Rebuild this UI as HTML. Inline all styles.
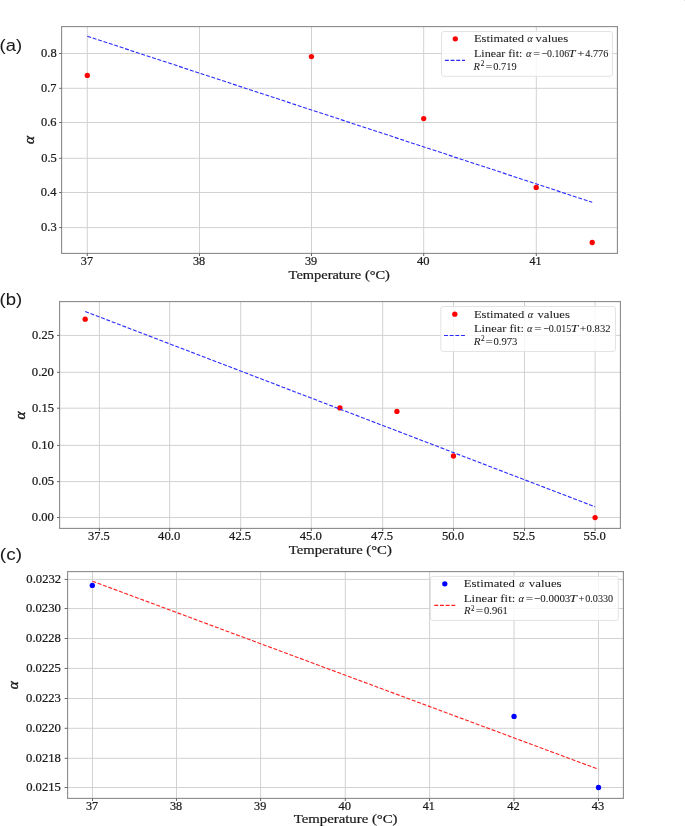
<!DOCTYPE html>
<html><head><meta charset="utf-8"><title>alpha vs temperature</title><style>
html,body{margin:0;padding:0;background:#fff;width:685px;height:826px;overflow:hidden;}
svg{display:block;will-change:transform;} text{stroke:#1a1a1a;stroke-width:0.22px;} text.lg{stroke-width:0.06px;} text.pl{stroke-width:0.05px;} text.al{stroke-width:0.4px;}
</style></head><body>
<svg width="685" height="826" viewBox="0 0 685 826">
<rect width="685" height="826" fill="#fff"/>
<rect x="684" y="0" width="1" height="1" fill="#e4e4e4"/>
<line x1="87.30" y1="26.6" x2="87.30" y2="253.4" stroke="#d2d2d2" stroke-width="1.0"/>
<line x1="199.50" y1="26.6" x2="199.50" y2="253.4" stroke="#d2d2d2" stroke-width="1.0"/>
<line x1="311.50" y1="26.6" x2="311.50" y2="253.4" stroke="#d2d2d2" stroke-width="1.0"/>
<line x1="423.70" y1="26.6" x2="423.70" y2="253.4" stroke="#d2d2d2" stroke-width="1.0"/>
<line x1="536.30" y1="26.6" x2="536.30" y2="253.4" stroke="#d2d2d2" stroke-width="1.0"/>
<line x1="61.6" y1="53.50" x2="617.4" y2="53.50" stroke="#d2d2d2" stroke-width="1.0"/>
<line x1="61.6" y1="88.30" x2="617.4" y2="88.30" stroke="#d2d2d2" stroke-width="1.0"/>
<line x1="61.6" y1="122.50" x2="617.4" y2="122.50" stroke="#d2d2d2" stroke-width="1.0"/>
<line x1="61.6" y1="158.30" x2="617.4" y2="158.30" stroke="#d2d2d2" stroke-width="1.0"/>
<line x1="61.6" y1="192.50" x2="617.4" y2="192.50" stroke="#d2d2d2" stroke-width="1.0"/>
<line x1="61.6" y1="227.60" x2="617.4" y2="227.60" stroke="#d2d2d2" stroke-width="1.0"/>
<circle cx="87.3" cy="75.4" r="2.65" fill="#ff0000"/>
<circle cx="311.45" cy="56.6" r="2.65" fill="#ff0000"/>
<circle cx="423.7" cy="118.6" r="2.65" fill="#ff0000"/>
<circle cx="536.2" cy="187.4" r="2.65" fill="#ff0000"/>
<circle cx="592.2" cy="242.5" r="2.65" fill="#ff0000"/>
<line x1="87.3" y1="36.2" x2="592.2" y2="202.3" stroke="#2a2aff" stroke-width="1.1" stroke-dasharray="3.95 1.73"/>
<rect x="61.6" y="26.6" width="555.80" height="226.80" fill="none" stroke="#8a8a8a" stroke-width="1.1"/>
<line x1="87.30" y1="253.4" x2="87.30" y2="256.0" stroke="#666" stroke-width="1.0"/>
<text x="80.80" y="264.60" font-size="11.60" font-family='"Liberation Serif", serif' fill="#1a1a1a" textLength="12.19" lengthAdjust="spacingAndGlyphs">37</text>
<line x1="199.50" y1="253.4" x2="199.50" y2="256.0" stroke="#666" stroke-width="1.0"/>
<text x="193.00" y="264.60" font-size="11.60" font-family='"Liberation Serif", serif' fill="#1a1a1a" textLength="12.19" lengthAdjust="spacingAndGlyphs">38</text>
<line x1="311.50" y1="253.4" x2="311.50" y2="256.0" stroke="#666" stroke-width="1.0"/>
<text x="305.00" y="264.60" font-size="11.60" font-family='"Liberation Serif", serif' fill="#1a1a1a" textLength="12.19" lengthAdjust="spacingAndGlyphs">39</text>
<line x1="423.70" y1="253.4" x2="423.70" y2="256.0" stroke="#666" stroke-width="1.0"/>
<text x="416.95" y="264.60" font-size="11.60" font-family='"Liberation Serif", serif' fill="#1a1a1a" textLength="12.54" lengthAdjust="spacingAndGlyphs">40</text>
<line x1="536.30" y1="253.4" x2="536.30" y2="256.0" stroke="#666" stroke-width="1.0"/>
<text x="529.57" y="264.60" font-size="11.60" font-family='"Liberation Serif", serif' fill="#1a1a1a" textLength="11.97" lengthAdjust="spacingAndGlyphs">41</text>
<line x1="59.2" y1="53.50" x2="61.6" y2="53.50" stroke="#666" stroke-width="1.0"/>
<text x="41.06" y="57.25" font-size="11.60" font-family='"Liberation Serif", serif' fill="#1a1a1a" textLength="15.68" lengthAdjust="spacingAndGlyphs">0.8</text>
<line x1="59.2" y1="88.30" x2="61.6" y2="88.30" stroke="#666" stroke-width="1.0"/>
<text x="41.07" y="92.05" font-size="11.60" font-family='"Liberation Serif", serif' fill="#1a1a1a" textLength="15.40" lengthAdjust="spacingAndGlyphs">0.7</text>
<line x1="59.2" y1="122.50" x2="61.6" y2="122.50" stroke="#666" stroke-width="1.0"/>
<text x="40.97" y="126.25" font-size="11.60" font-family='"Liberation Serif", serif' fill="#1a1a1a" textLength="15.50" lengthAdjust="spacingAndGlyphs">0.6</text>
<line x1="59.2" y1="158.30" x2="61.6" y2="158.30" stroke="#666" stroke-width="1.0"/>
<text x="41.16" y="162.05" font-size="11.60" font-family='"Liberation Serif", serif' fill="#1a1a1a" textLength="15.57" lengthAdjust="spacingAndGlyphs">0.5</text>
<line x1="59.2" y1="192.50" x2="61.6" y2="192.50" stroke="#666" stroke-width="1.0"/>
<text x="40.86" y="196.25" font-size="11.60" font-family='"Liberation Serif", serif' fill="#1a1a1a" textLength="15.61" lengthAdjust="spacingAndGlyphs">0.4</text>
<line x1="59.2" y1="227.60" x2="61.6" y2="227.60" stroke="#666" stroke-width="1.0"/>
<text x="41.06" y="231.35" font-size="11.60" font-family='"Liberation Serif", serif' fill="#1a1a1a" textLength="15.68" lengthAdjust="spacingAndGlyphs">0.3</text>
<text x="288.62" y="278.50" font-size="13.00" font-family='"Liberation Serif", serif' fill="#1a1a1a" textLength="101.27" lengthAdjust="spacingAndGlyphs">Temperature (°C)</text>
<text x="-0.41" y="51.00" font-size="16.50" font-family='"Liberation Sans", sans-serif' fill="#1a1a1a" class="pl" textLength="22.44" lengthAdjust="spacingAndGlyphs">(a)</text>
<text x="0" y="0" font-size="15.3" font-family='"Liberation Serif", serif' font-style="italic" font-weight="normal" fill="#1a1a1a" class="al" transform="translate(30.35,139.55) rotate(-90) translate(-4.38,3.50)">α</text>
<rect x="441.5" y="31.5" width="171.00" height="44.80" rx="2.4" ry="2.4" fill="#ffffff" fill-opacity="0.8" stroke="#e3e3e3" stroke-width="1"/>
<circle cx="455.3" cy="38.8" r="2.65" fill="#ff0000"/>
<line x1="444.9" y1="60.4" x2="465.0" y2="60.4" stroke="#2a2aff" stroke-width="1.1" stroke-dasharray="3.95 1.73"/>
<text x="473.92" y="42.20" font-size="11.40" font-family='"Liberation Serif", serif' fill="#1a1a1a" class="lg" textLength="50.14" lengthAdjust="spacingAndGlyphs">Estimated</text>
<text x="527.36" y="42.20" font-size="10.90" font-family='"Liberation Serif", serif' font-style="italic" fill="#1a1a1a" class="lg" textLength="5.47" lengthAdjust="spacingAndGlyphs">α</text>
<text x="535.60" y="42.20" font-size="11.40" font-family='"Liberation Serif", serif' fill="#1a1a1a" class="lg" textLength="32.60" lengthAdjust="spacingAndGlyphs">values</text>
<text x="473.94" y="56.60" font-size="11.40" font-family='"Liberation Serif", serif' fill="#1a1a1a" class="lg" textLength="48.47" lengthAdjust="spacingAndGlyphs">Linear fit:</text>
<text x="525.96" y="56.60" font-size="10.90" font-family='"Liberation Serif", serif' font-style="italic" fill="#1a1a1a" class="lg" textLength="5.47" lengthAdjust="spacingAndGlyphs">α</text>
<text x="533.35" y="56.60" font-size="10.90" font-family='"Liberation Serif", serif' fill="#1a1a1a" class="lg" textLength="6.80" lengthAdjust="spacingAndGlyphs">=</text>
<text x="541.45" y="56.60" font-size="10.90" font-family='"Liberation Serif", serif' fill="#1a1a1a" class="lg" textLength="27.72" lengthAdjust="spacingAndGlyphs">−0.106</text>
<text x="568.64" y="56.60" font-size="10.90" font-family='"Liberation Serif", serif' font-style="italic" fill="#1a1a1a" class="lg" textLength="6.97" lengthAdjust="spacingAndGlyphs">T</text>
<text x="577.31" y="56.60" font-size="10.90" font-family='"Liberation Serif", serif' fill="#1a1a1a" class="lg" textLength="7.27" lengthAdjust="spacingAndGlyphs">+</text>
<text x="585.37" y="56.60" font-size="10.90" font-family='"Liberation Serif", serif' fill="#1a1a1a" class="lg" textLength="22.98" lengthAdjust="spacingAndGlyphs">4.776</text>
<text x="473.60" y="69.80" font-size="10.90" font-family='"Liberation Serif", serif' font-style="italic" fill="#1a1a1a" class="lg" textLength="6.45" lengthAdjust="spacingAndGlyphs">R</text>
<text x="485.55" y="69.80" font-size="10.90" font-family='"Liberation Serif", serif' fill="#1a1a1a" class="lg" textLength="6.80" lengthAdjust="spacingAndGlyphs">=</text>
<text x="493.22" y="69.80" font-size="10.90" font-family='"Liberation Serif", serif' fill="#1a1a1a" class="lg" textLength="23.37" lengthAdjust="spacingAndGlyphs">0.719</text>
<text x="480.66" y="66.30" font-size="7.63" font-family='"Liberation Serif", serif' fill="#1a1a1a" class="lg" textLength="3.64" lengthAdjust="spacingAndGlyphs">2</text>
<line x1="99.40" y1="301.6" x2="99.40" y2="528.4" stroke="#d2d2d2" stroke-width="1.0"/>
<line x1="169.70" y1="301.6" x2="169.70" y2="528.4" stroke="#d2d2d2" stroke-width="1.0"/>
<line x1="240.70" y1="301.6" x2="240.70" y2="528.4" stroke="#d2d2d2" stroke-width="1.0"/>
<line x1="311.30" y1="301.6" x2="311.30" y2="528.4" stroke="#d2d2d2" stroke-width="1.0"/>
<line x1="382.70" y1="301.6" x2="382.70" y2="528.4" stroke="#d2d2d2" stroke-width="1.0"/>
<line x1="453.45" y1="301.6" x2="453.45" y2="528.4" stroke="#d2d2d2" stroke-width="1.0"/>
<line x1="524.50" y1="301.6" x2="524.50" y2="528.4" stroke="#d2d2d2" stroke-width="1.0"/>
<line x1="595.10" y1="301.6" x2="595.10" y2="528.4" stroke="#d2d2d2" stroke-width="1.0"/>
<line x1="59.6" y1="335.40" x2="620.4" y2="335.40" stroke="#d2d2d2" stroke-width="1.0"/>
<line x1="59.6" y1="372.30" x2="620.4" y2="372.30" stroke="#d2d2d2" stroke-width="1.0"/>
<line x1="59.6" y1="408.20" x2="620.4" y2="408.20" stroke="#d2d2d2" stroke-width="1.0"/>
<line x1="59.6" y1="445.40" x2="620.4" y2="445.40" stroke="#d2d2d2" stroke-width="1.0"/>
<line x1="59.6" y1="481.60" x2="620.4" y2="481.60" stroke="#d2d2d2" stroke-width="1.0"/>
<line x1="59.6" y1="517.50" x2="620.4" y2="517.50" stroke="#d2d2d2" stroke-width="1.0"/>
<circle cx="85.2" cy="319.2" r="2.65" fill="#ff0000"/>
<circle cx="339.9" cy="407.9" r="2.65" fill="#ff0000"/>
<circle cx="396.9" cy="411.4" r="2.65" fill="#ff0000"/>
<circle cx="453.45" cy="456.0" r="2.65" fill="#ff0000"/>
<circle cx="595.1" cy="517.6" r="2.65" fill="#ff0000"/>
<line x1="85.2" y1="311.5" x2="595.1" y2="506.8" stroke="#2a2aff" stroke-width="1.1" stroke-dasharray="3.95 1.73"/>
<rect x="59.6" y="301.6" width="560.80" height="226.80" fill="none" stroke="#8a8a8a" stroke-width="1.1"/>
<line x1="99.40" y1="528.4" x2="99.40" y2="531.0" stroke="#666" stroke-width="1.0"/>
<text x="88.07" y="539.60" font-size="11.60" font-family='"Liberation Serif", serif' fill="#1a1a1a" textLength="21.75" lengthAdjust="spacingAndGlyphs">37.5</text>
<line x1="169.70" y1="528.4" x2="169.70" y2="531.0" stroke="#666" stroke-width="1.0"/>
<text x="158.13" y="539.60" font-size="11.60" font-family='"Liberation Serif", serif' fill="#1a1a1a" textLength="22.20" lengthAdjust="spacingAndGlyphs">40.0</text>
<line x1="240.70" y1="528.4" x2="240.70" y2="531.0" stroke="#666" stroke-width="1.0"/>
<text x="229.13" y="539.60" font-size="11.60" font-family='"Liberation Serif", serif' fill="#1a1a1a" textLength="21.99" lengthAdjust="spacingAndGlyphs">42.5</text>
<line x1="311.30" y1="528.4" x2="311.30" y2="531.0" stroke="#666" stroke-width="1.0"/>
<text x="299.73" y="539.60" font-size="11.60" font-family='"Liberation Serif", serif' fill="#1a1a1a" textLength="22.20" lengthAdjust="spacingAndGlyphs">45.0</text>
<line x1="382.70" y1="528.4" x2="382.70" y2="531.0" stroke="#666" stroke-width="1.0"/>
<text x="371.13" y="539.60" font-size="11.60" font-family='"Liberation Serif", serif' fill="#1a1a1a" textLength="21.99" lengthAdjust="spacingAndGlyphs">47.5</text>
<line x1="453.45" y1="528.4" x2="453.45" y2="531.0" stroke="#666" stroke-width="1.0"/>
<text x="441.94" y="539.60" font-size="11.60" font-family='"Liberation Serif", serif' fill="#1a1a1a" textLength="22.14" lengthAdjust="spacingAndGlyphs">50.0</text>
<line x1="524.50" y1="528.4" x2="524.50" y2="531.0" stroke="#666" stroke-width="1.0"/>
<text x="512.99" y="539.60" font-size="11.60" font-family='"Liberation Serif", serif' fill="#1a1a1a" textLength="21.93" lengthAdjust="spacingAndGlyphs">52.5</text>
<line x1="595.10" y1="528.4" x2="595.10" y2="531.0" stroke="#666" stroke-width="1.0"/>
<text x="583.59" y="539.60" font-size="11.60" font-family='"Liberation Serif", serif' fill="#1a1a1a" textLength="22.14" lengthAdjust="spacingAndGlyphs">55.0</text>
<line x1="57.0" y1="335.40" x2="59.6" y2="335.40" stroke="#666" stroke-width="1.0"/>
<text x="32.06" y="339.15" font-size="11.60" font-family='"Liberation Serif", serif' fill="#1a1a1a" textLength="21.86" lengthAdjust="spacingAndGlyphs">0.25</text>
<line x1="57.0" y1="372.30" x2="59.6" y2="372.30" stroke="#666" stroke-width="1.0"/>
<text x="31.86" y="376.05" font-size="11.60" font-family='"Liberation Serif", serif' fill="#1a1a1a" textLength="22.07" lengthAdjust="spacingAndGlyphs">0.20</text>
<line x1="57.0" y1="408.20" x2="59.6" y2="408.20" stroke="#666" stroke-width="1.0"/>
<text x="32.06" y="411.95" font-size="11.60" font-family='"Liberation Serif", serif' fill="#1a1a1a" textLength="21.86" lengthAdjust="spacingAndGlyphs">0.15</text>
<line x1="57.0" y1="445.40" x2="59.6" y2="445.40" stroke="#666" stroke-width="1.0"/>
<text x="31.86" y="449.15" font-size="11.60" font-family='"Liberation Serif", serif' fill="#1a1a1a" textLength="22.07" lengthAdjust="spacingAndGlyphs">0.10</text>
<line x1="57.0" y1="481.60" x2="59.6" y2="481.60" stroke="#666" stroke-width="1.0"/>
<text x="32.06" y="485.35" font-size="11.60" font-family='"Liberation Serif", serif' fill="#1a1a1a" textLength="21.86" lengthAdjust="spacingAndGlyphs">0.05</text>
<line x1="57.0" y1="517.50" x2="59.6" y2="517.50" stroke="#666" stroke-width="1.0"/>
<text x="31.86" y="521.25" font-size="11.60" font-family='"Liberation Serif", serif' fill="#1a1a1a" textLength="22.07" lengthAdjust="spacingAndGlyphs">0.00</text>
<text x="288.82" y="553.50" font-size="13.00" font-family='"Liberation Serif", serif' fill="#1a1a1a" textLength="102.98" lengthAdjust="spacingAndGlyphs">Temperature (°C)</text>
<text x="-0.42" y="305.40" font-size="16.50" font-family='"Liberation Sans", sans-serif' fill="#1a1a1a" class="pl" textLength="22.66" lengthAdjust="spacingAndGlyphs">(b)</text>
<text x="0" y="0" font-size="15.3" font-family='"Liberation Serif", serif' font-style="italic" font-weight="normal" fill="#1a1a1a" class="al" transform="translate(21.3,415.0) rotate(-90) translate(-4.38,3.50)">α</text>
<rect x="440.8" y="306.5" width="174.70" height="45.00" rx="2.4" ry="2.4" fill="#ffffff" fill-opacity="0.8" stroke="#e3e3e3" stroke-width="1"/>
<circle cx="454.8" cy="314.2" r="2.65" fill="#ff0000"/>
<line x1="444.0" y1="335.5" x2="464.9" y2="335.5" stroke="#2a2aff" stroke-width="1.1" stroke-dasharray="3.95 1.73"/>
<text x="473.92" y="317.50" font-size="11.40" font-family='"Liberation Serif", serif' fill="#1a1a1a" class="lg" textLength="50.35" lengthAdjust="spacingAndGlyphs">Estimated</text>
<text x="527.76" y="317.50" font-size="10.90" font-family='"Liberation Serif", serif' font-style="italic" fill="#1a1a1a" class="lg" textLength="5.47" lengthAdjust="spacingAndGlyphs">α</text>
<text x="537.40" y="317.50" font-size="11.40" font-family='"Liberation Serif", serif' fill="#1a1a1a" class="lg" textLength="32.50" lengthAdjust="spacingAndGlyphs">values</text>
<text x="473.93" y="331.90" font-size="11.40" font-family='"Liberation Serif", serif' fill="#1a1a1a" class="lg" textLength="50.01" lengthAdjust="spacingAndGlyphs">Linear fit:</text>
<text x="526.97" y="331.90" font-size="10.90" font-family='"Liberation Serif", serif' font-style="italic" fill="#1a1a1a" class="lg" textLength="5.37" lengthAdjust="spacingAndGlyphs">α</text>
<text x="534.21" y="331.90" font-size="10.90" font-family='"Liberation Serif", serif' fill="#1a1a1a" class="lg" textLength="7.27" lengthAdjust="spacingAndGlyphs">=</text>
<text x="543.14" y="331.90" font-size="10.90" font-family='"Liberation Serif", serif' fill="#1a1a1a" class="lg" textLength="28.13" lengthAdjust="spacingAndGlyphs">−0.015</text>
<text x="570.68" y="331.90" font-size="10.90" font-family='"Liberation Serif", serif' font-style="italic" fill="#1a1a1a" class="lg" textLength="7.48" lengthAdjust="spacingAndGlyphs">T</text>
<text x="579.67" y="331.90" font-size="10.90" font-family='"Liberation Serif", serif' fill="#1a1a1a" class="lg" textLength="6.57" lengthAdjust="spacingAndGlyphs">+</text>
<text x="586.61" y="331.90" font-size="10.90" font-family='"Liberation Serif", serif' fill="#1a1a1a" class="lg" textLength="23.89" lengthAdjust="spacingAndGlyphs">0.832</text>
<text x="473.80" y="344.80" font-size="10.90" font-family='"Liberation Serif", serif' font-style="italic" fill="#1a1a1a" class="lg" textLength="6.76" lengthAdjust="spacingAndGlyphs">R</text>
<text x="485.61" y="344.80" font-size="10.90" font-family='"Liberation Serif", serif' fill="#1a1a1a" class="lg" textLength="7.27" lengthAdjust="spacingAndGlyphs">=</text>
<text x="493.41" y="344.80" font-size="10.90" font-family='"Liberation Serif", serif' fill="#1a1a1a" class="lg" textLength="23.95" lengthAdjust="spacingAndGlyphs">0.973</text>
<text x="481.06" y="341.30" font-size="7.63" font-family='"Liberation Serif", serif' fill="#1a1a1a" class="lg" textLength="3.64" lengthAdjust="spacingAndGlyphs">2</text>
<line x1="92.50" y1="571.6" x2="92.50" y2="798.4" stroke="#d2d2d2" stroke-width="1.0"/>
<line x1="176.50" y1="571.6" x2="176.50" y2="798.4" stroke="#d2d2d2" stroke-width="1.0"/>
<line x1="260.60" y1="571.6" x2="260.60" y2="798.4" stroke="#d2d2d2" stroke-width="1.0"/>
<line x1="345.30" y1="571.6" x2="345.30" y2="798.4" stroke="#d2d2d2" stroke-width="1.0"/>
<line x1="429.60" y1="571.6" x2="429.60" y2="798.4" stroke="#d2d2d2" stroke-width="1.0"/>
<line x1="514.00" y1="571.6" x2="514.00" y2="798.4" stroke="#d2d2d2" stroke-width="1.0"/>
<line x1="598.50" y1="571.6" x2="598.50" y2="798.4" stroke="#d2d2d2" stroke-width="1.0"/>
<line x1="67.6" y1="579.40" x2="623.4" y2="579.40" stroke="#d2d2d2" stroke-width="1.0"/>
<line x1="67.6" y1="608.55" x2="623.4" y2="608.55" stroke="#d2d2d2" stroke-width="1.0"/>
<line x1="67.6" y1="638.50" x2="623.4" y2="638.50" stroke="#d2d2d2" stroke-width="1.0"/>
<line x1="67.6" y1="668.40" x2="623.4" y2="668.40" stroke="#d2d2d2" stroke-width="1.0"/>
<line x1="67.6" y1="698.50" x2="623.4" y2="698.50" stroke="#d2d2d2" stroke-width="1.0"/>
<line x1="67.6" y1="728.30" x2="623.4" y2="728.30" stroke="#d2d2d2" stroke-width="1.0"/>
<line x1="67.6" y1="758.30" x2="623.4" y2="758.30" stroke="#d2d2d2" stroke-width="1.0"/>
<line x1="67.6" y1="787.50" x2="623.4" y2="787.50" stroke="#d2d2d2" stroke-width="1.0"/>
<circle cx="92.3" cy="585.4" r="2.65" fill="#0000ff"/>
<circle cx="514.05" cy="716.4" r="2.65" fill="#0000ff"/>
<circle cx="598.5" cy="787.5" r="2.65" fill="#0000ff"/>
<line x1="92.4" y1="581.2" x2="598.5" y2="769.3" stroke="#ff1f1f" stroke-width="1.1" stroke-dasharray="3.95 1.73"/>
<rect x="67.6" y="571.6" width="555.80" height="226.80" fill="none" stroke="#8a8a8a" stroke-width="1.1"/>
<line x1="92.50" y1="798.4" x2="92.50" y2="801.0" stroke="#666" stroke-width="1.0"/>
<text x="86.00" y="809.60" font-size="11.60" font-family='"Liberation Serif", serif' fill="#1a1a1a" textLength="12.19" lengthAdjust="spacingAndGlyphs">37</text>
<line x1="176.50" y1="798.4" x2="176.50" y2="801.0" stroke="#666" stroke-width="1.0"/>
<text x="170.00" y="809.60" font-size="11.60" font-family='"Liberation Serif", serif' fill="#1a1a1a" textLength="12.19" lengthAdjust="spacingAndGlyphs">38</text>
<line x1="260.60" y1="798.4" x2="260.60" y2="801.0" stroke="#666" stroke-width="1.0"/>
<text x="254.10" y="809.60" font-size="11.60" font-family='"Liberation Serif", serif' fill="#1a1a1a" textLength="12.19" lengthAdjust="spacingAndGlyphs">39</text>
<line x1="345.30" y1="798.4" x2="345.30" y2="801.0" stroke="#666" stroke-width="1.0"/>
<text x="338.55" y="809.60" font-size="11.60" font-family='"Liberation Serif", serif' fill="#1a1a1a" textLength="12.54" lengthAdjust="spacingAndGlyphs">40</text>
<line x1="429.60" y1="798.4" x2="429.60" y2="801.0" stroke="#666" stroke-width="1.0"/>
<text x="422.87" y="809.60" font-size="11.60" font-family='"Liberation Serif", serif' fill="#1a1a1a" textLength="11.97" lengthAdjust="spacingAndGlyphs">41</text>
<line x1="514.00" y1="798.4" x2="514.00" y2="801.0" stroke="#666" stroke-width="1.0"/>
<text x="507.26" y="809.60" font-size="11.60" font-family='"Liberation Serif", serif' fill="#1a1a1a" textLength="12.40" lengthAdjust="spacingAndGlyphs">42</text>
<line x1="598.50" y1="798.4" x2="598.50" y2="801.0" stroke="#666" stroke-width="1.0"/>
<text x="591.76" y="809.60" font-size="11.60" font-family='"Liberation Serif", serif' fill="#1a1a1a" textLength="12.44" lengthAdjust="spacingAndGlyphs">43</text>
<line x1="64.6" y1="579.40" x2="67.6" y2="579.40" stroke="#666" stroke-width="1.0"/>
<text x="26.35" y="583.15" font-size="11.60" font-family='"Liberation Serif", serif' fill="#1a1a1a" textLength="34.85" lengthAdjust="spacingAndGlyphs">0.0232</text>
<line x1="64.6" y1="608.55" x2="67.6" y2="608.55" stroke="#666" stroke-width="1.0"/>
<text x="25.95" y="612.30" font-size="11.60" font-family='"Liberation Serif", serif' fill="#1a1a1a" textLength="34.98" lengthAdjust="spacingAndGlyphs">0.0230</text>
<line x1="64.6" y1="638.50" x2="67.6" y2="638.50" stroke="#666" stroke-width="1.0"/>
<text x="26.05" y="642.25" font-size="11.60" font-family='"Liberation Serif", serif' fill="#1a1a1a" textLength="34.87" lengthAdjust="spacingAndGlyphs">0.0228</text>
<line x1="64.6" y1="668.40" x2="67.6" y2="668.40" stroke="#666" stroke-width="1.0"/>
<text x="26.15" y="672.15" font-size="11.60" font-family='"Liberation Serif", serif' fill="#1a1a1a" textLength="34.77" lengthAdjust="spacingAndGlyphs">0.0225</text>
<line x1="64.6" y1="698.50" x2="67.6" y2="698.50" stroke="#666" stroke-width="1.0"/>
<text x="26.05" y="702.25" font-size="11.60" font-family='"Liberation Serif", serif' fill="#1a1a1a" textLength="34.87" lengthAdjust="spacingAndGlyphs">0.0223</text>
<line x1="64.6" y1="728.30" x2="67.6" y2="728.30" stroke="#666" stroke-width="1.0"/>
<text x="25.95" y="732.05" font-size="11.60" font-family='"Liberation Serif", serif' fill="#1a1a1a" textLength="34.98" lengthAdjust="spacingAndGlyphs">0.0220</text>
<line x1="64.6" y1="758.30" x2="67.6" y2="758.30" stroke="#666" stroke-width="1.0"/>
<text x="26.05" y="762.05" font-size="11.60" font-family='"Liberation Serif", serif' fill="#1a1a1a" textLength="34.87" lengthAdjust="spacingAndGlyphs">0.0218</text>
<line x1="64.6" y1="787.50" x2="67.6" y2="787.50" stroke="#666" stroke-width="1.0"/>
<text x="26.15" y="791.25" font-size="11.60" font-family='"Liberation Serif", serif' fill="#1a1a1a" textLength="34.77" lengthAdjust="spacingAndGlyphs">0.0215</text>
<text x="293.72" y="823.30" font-size="13.00" font-family='"Liberation Serif", serif' fill="#1a1a1a" textLength="103.79" lengthAdjust="spacingAndGlyphs">Temperature (°C)</text>
<text x="-0.15" y="559.50" font-size="16.50" font-family='"Liberation Sans", sans-serif' fill="#1a1a1a" class="pl" textLength="22.10" lengthAdjust="spacingAndGlyphs">(c)</text>
<text x="0" y="0" font-size="15.3" font-family='"Liberation Serif", serif' font-style="italic" font-weight="normal" fill="#1a1a1a" class="al" transform="translate(14.6,684.8) rotate(-90) translate(-4.38,3.50)">α</text>
<rect x="430.5" y="576.4" width="187.80" height="44.10" rx="2.4" ry="2.4" fill="#ffffff" fill-opacity="0.8" stroke="#e3e3e3" stroke-width="1"/>
<circle cx="444.8" cy="583.8" r="2.65" fill="#0000ff"/>
<line x1="434.3" y1="605.4" x2="455.4" y2="605.4" stroke="#ff1f1f" stroke-width="1.1" stroke-dasharray="3.95 1.73"/>
<text x="463.82" y="587.40" font-size="11.40" font-family='"Liberation Serif", serif' fill="#1a1a1a" class="lg" textLength="51.15" lengthAdjust="spacingAndGlyphs">Estimated</text>
<text x="519.37" y="587.40" font-size="10.90" font-family='"Liberation Serif", serif' font-style="italic" fill="#1a1a1a" class="lg" textLength="5.17" lengthAdjust="spacingAndGlyphs">α</text>
<text x="528.80" y="587.40" font-size="11.40" font-family='"Liberation Serif", serif' fill="#1a1a1a" class="lg" textLength="32.81" lengthAdjust="spacingAndGlyphs">values</text>
<text x="463.82" y="601.80" font-size="11.40" font-family='"Liberation Serif", serif' fill="#1a1a1a" class="lg" textLength="51.44" lengthAdjust="spacingAndGlyphs">Linear fit:</text>
<text x="518.46" y="601.80" font-size="10.90" font-family='"Liberation Serif", serif' font-style="italic" fill="#1a1a1a" class="lg" textLength="5.47" lengthAdjust="spacingAndGlyphs">α</text>
<text x="525.70" y="601.80" font-size="10.90" font-family='"Liberation Serif", serif' fill="#1a1a1a" class="lg" textLength="7.39" lengthAdjust="spacingAndGlyphs">=</text>
<text x="534.10" y="601.80" font-size="10.90" font-family='"Liberation Serif", serif' fill="#1a1a1a" class="lg" textLength="36.25" lengthAdjust="spacingAndGlyphs">−0.0003</text>
<text x="569.49" y="601.80" font-size="10.90" font-family='"Liberation Serif", serif' font-style="italic" fill="#1a1a1a" class="lg" textLength="7.38" lengthAdjust="spacingAndGlyphs">T</text>
<text x="578.61" y="601.80" font-size="10.90" font-family='"Liberation Serif", serif' fill="#1a1a1a" class="lg" textLength="5.98" lengthAdjust="spacingAndGlyphs">+</text>
<text x="585.23" y="601.80" font-size="10.90" font-family='"Liberation Serif", serif' fill="#1a1a1a" class="lg" textLength="27.89" lengthAdjust="spacingAndGlyphs">0.0330</text>
<text x="464.10" y="614.10" font-size="10.90" font-family='"Liberation Serif", serif' font-style="italic" fill="#1a1a1a" class="lg" textLength="6.55" lengthAdjust="spacingAndGlyphs">R</text>
<text x="475.79" y="614.10" font-size="10.90" font-family='"Liberation Serif", serif' fill="#1a1a1a" class="lg" textLength="7.50" lengthAdjust="spacingAndGlyphs">=</text>
<text x="484.01" y="614.10" font-size="10.90" font-family='"Liberation Serif", serif' fill="#1a1a1a" class="lg" textLength="23.79" lengthAdjust="spacingAndGlyphs">0.961</text>
<text x="470.97" y="610.60" font-size="7.63" font-family='"Liberation Serif", serif' fill="#1a1a1a" class="lg" textLength="3.52" lengthAdjust="spacingAndGlyphs">2</text>
</svg>
</body></html>
